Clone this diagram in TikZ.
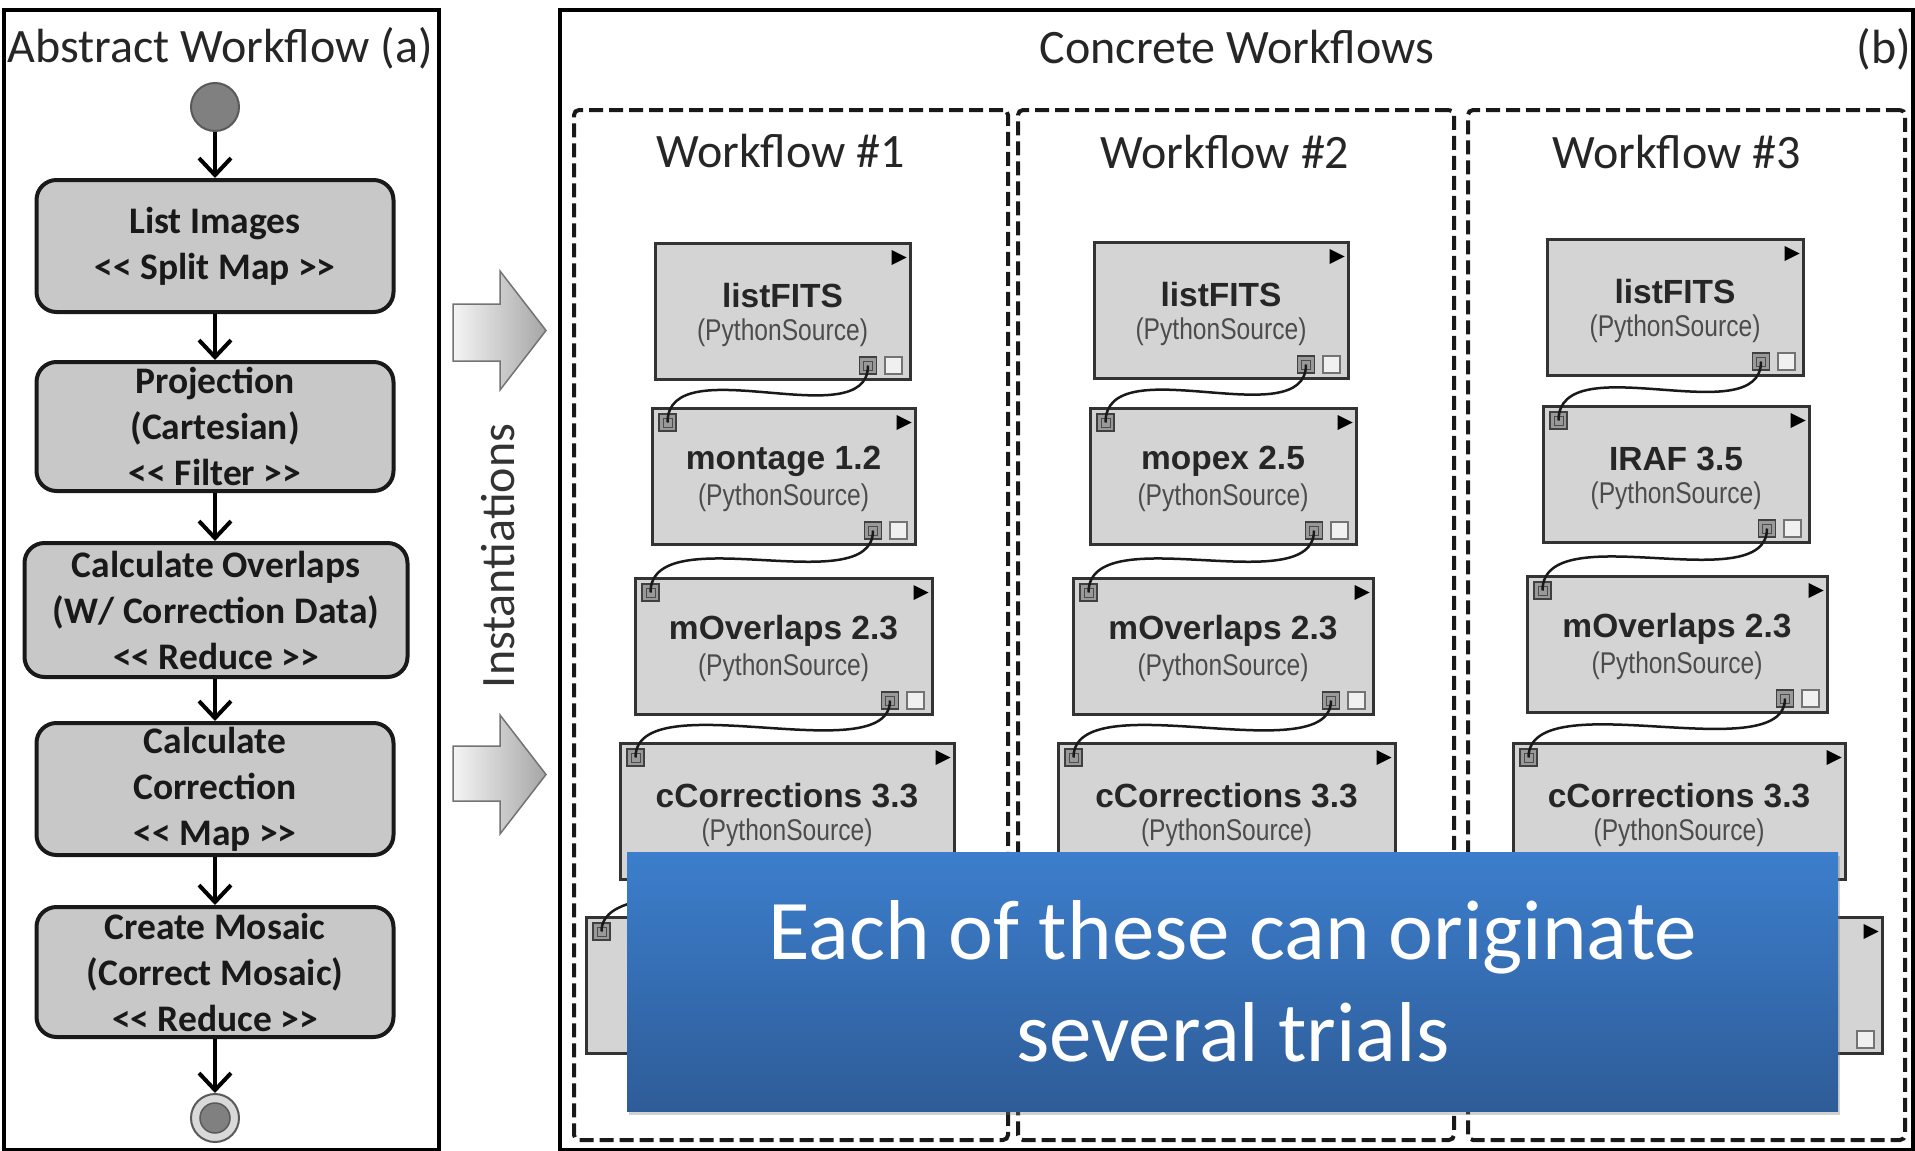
\documentclass[tikz,border=0pt]{standalone}
\usepackage{fontspec}
\setmainfont{Carlito}
\newfontfamily\calfont{Carlito}[Ligatures=TeXOff]
\newfontfamily\modfont{Liberation Sans}
\newfontfamily\modsubfont{Liberation Sans}[FakeStretch=0.82]
\usetikzlibrary{arrows.meta,calc,shadows}

\definecolor{boxgray}{RGB}{200,200,200}
\definecolor{modgray}{RGB}{212,212,212}
\definecolor{notetop}{RGB}{60,126,204}
\definecolor{notebot}{RGB}{46,92,152}

\tikzset{
  panel/.style={draw=black, line width=4pt, inner sep=0pt, anchor=north west},
  wfbox/.style={draw=black!90, line width=4pt, dash pattern=on 14pt off 6pt,
    rounded corners=5pt, inner sep=0pt, anchor=north west},
  headtext/.style={font=\calfont\fontsize{48}{56}\selectfont, text=black!85, anchor=base},
  abox/.style={draw=black!90, line width=4pt, fill=boxgray, rounded corners=20pt,
    minimum width=357pt, align=center, inner sep=0pt, text=black!90,
    font=\calfont\bfseries\fontsize{37.5}{46}\selectfont},
  startdot/.style={circle, draw=black!65, line width=2pt, fill=black!50, minimum size=48pt, inner sep=0pt},
  endring/.style={circle, draw=black!65, line width=2pt, fill=black!15, minimum size=48pt, inner sep=0pt},
  enddot/.style={circle, draw=black!65, line width=1.5pt, fill=black!50, minimum size=30pt, inner sep=0pt},
  flow/.style={line width=4pt, draw=black, -{Straight Barb[length=17pt,width=32pt]}},
  bigarrow/.style={draw=black!55, line width=1.5pt, left color=black!4, right color=black!35},
  modbox/.style={draw=black!80, line width=3pt, fill=modgray, minimum height=136pt, inner sep=0pt},
  modtitle/.style={font=\modfont\bfseries\fontsize{33.5}{38}\selectfont, text=black!85},
  modsub/.style={font=\modsubfont\fontsize{30}{34}\selectfont, text=black!70},
  portused/.style={draw=black!75, fill=black!40, line width=1.5pt, minimum size=17pt, inner sep=0pt,
    path picture={\draw[black!70, line width=1pt]
      ([shift={(4pt,4pt)}]path picture bounding box.south west) rectangle
      ([shift={(-4pt,-4pt)}]path picture bounding box.north east);}},
  portfree/.style={draw=black!55, fill=black!6, line width=1.5pt, minimum size=17pt, inner sep=0pt},
  wire/.style={draw=black!90, line width=2.5pt},
  note/.style={draw=none, top color=notetop, bottom color=notebot, inner sep=0pt,
    minimum width=1211pt, minimum height=259pt, anchor=north west, align=center,
    text=white, font=\calfont\fontsize{85}{102}\selectfont,
    drop shadow={shadow xshift=2pt, shadow yshift=-4pt, opacity=0.35}},
}

% module frame with its run marker and free port: name, centre x, top y, width
\newcommand\modframe[4]{%
  \node[modbox, minimum width=#4pt, anchor=north] (#1) at (#2,#3) {};
  \fill[black] ($(#1.north east)+(-20,8)$) -- ($(#1.north east)+(-5,15.5)$)
    -- ($(#1.north east)+(-20,23)$) -- cycle;
  \node[portfree] (#1-free) at ($(#1.south east)+(-18,-15.5)$) {};
}
% connected output port at the bottom right of a module
\newcommand\modoutport[1]{%
  \node[portused] (#1-out) at ($(#1.south east)+(-43.5,-15.5)$) {};
}
% module labels: name, title
\newcommand\modtext[2]{%
  \node[modtitle] (#1-t) at ($(#1.north)+(0,54)$) {#2};
  \node[modsub] (#1-s) at ($(#1.north)+(0,91)$) {(PythonSource)};
}
% input port at the top left corner of a module
\newcommand\modinport[1]{%
  \node[portused] (#1-in) at ($(#1.north west)+(17,15.5)$) {};
}
% wire from one module's output port to the next module's input port
\newcommand\modwire[2]{%
  \draw[wire] (#1-out.center) .. controls +(0,72) and +(0,-76) .. (#2-in.center);
}

\begin{document}
\begin{tikzpicture}[x=1pt, y=-1pt]
\useasboundingbox (0,0) rectangle (1915,1151);
\fill[white] (0,0) rectangle (1915,1151);

% ---------- panel (a): abstract workflow ----------
\node[panel, minimum width=435pt, minimum height=1140pt] (pa) at (2,8) {};
\node[headtext] (atitle) at (220,62) {Abstract Workflow (a)};

\node[startdot] (start) at (215,107) {};
\node[abox, minimum height=132pt] (ab1) at (215,246) {List Images\\<< Split Map >>};
\node[abox, minimum height=129pt] (ab2) at (215,426.5) {Projection\\(Cartesian)\\<< Filter >>};
\node[abox, minimum width=383pt, minimum height=134pt] (ab3) at (216,610) {Calculate Overlaps\\(W/ Correction Data)\\<< Reduce >>};
\node[abox, minimum height=132pt] (ab4) at (215,789) {Calculate\\Correction\\<< Map >>};
\node[abox, minimum height=130pt] (ab5) at (215,972) {Create Mosaic\\(Correct Mosaic)\\<< Reduce >>};
\node[endring] (stop) at (215,1118) {};
\node[enddot] (stopdot) at (215,1118) {};

\draw[flow] (start.south) -- (ab1.north);
\draw[flow] (ab1.south) -- (ab2.north);
\draw[flow] (ab2.south) -- (ab3.north -| ab2.south);
\draw[flow] (ab3.south -| ab2.south) -- (ab4.north);
\draw[flow] (ab4.south) -- (ab5.north);
\draw[flow] (ab5.south) -- (stop.north);

% ---------- instantiation arrows ----------
\draw[bigarrow] (453,304) -- (500,304) -- (500,271) -- (546,330.5) -- (500,390)
  -- (500,361) -- (453,361) -- cycle;
\draw[bigarrow] (453,746) -- (500,746) -- (500,715) -- (546,774.5) -- (500,834)
  -- (500,801) -- (453,801) -- cycle;
\node[headtext, anchor=center, rotate=90, text=black!80] (inst) at (498,556) {Instantiations};

% ---------- panel (b): concrete workflows ----------
\node[panel, minimum width=1353pt, minimum height=1140pt] (pb) at (558,8) {};
\node[headtext] (btitle) at (1237,63) {Concrete Workflows};
\node[headtext] (blabel) at (1884,63) {(b)};

\node[wfbox, minimum width=434pt, minimum height=1030pt] (wf1) at (572,108) {};
\node[wfbox, minimum width=436pt, minimum height=1030pt] (wf2) at (1016,108) {};
\node[wfbox, minimum width=437pt, minimum height=1030pt] (wf3) at (1466,108) {};
\node[headtext] (wf1t) at (780.5,167) {Workflow \#1};
\node[headtext] (wf2t) at (1225,168) {Workflow \#2};
\node[headtext] (wf3t) at (1676.5,168) {Workflow \#3};

% workflow 1
\modframe{a1}{782.5}{242}{255}   \modtext{a1}{listFITS}          \modoutport{a1}
\modframe{a2}{783.5}{407}{263}   \modtext{a2}{montage 1.2}       \modinport{a2} \modoutport{a2}
\modframe{a3}{783.5}{577}{297}   \modtext{a3}{mOverlaps 2.3}     \modinport{a3} \modoutport{a3}
\modframe{a4}{787}{742}{334}     \modtext{a4}{cCorrections 3.3}  \modinport{a4} \modoutport{a4}
\modframe{a5}{786}{916}{400}     \modinport{a5}
\modwire{a1}{a2} \modwire{a2}{a3} \modwire{a3}{a4} \modwire{a4}{a5}

% workflow 2
\modframe{b1}{1221}{241}{254}    \modtext{b1}{listFITS}          \modoutport{b1}
\modframe{b2}{1223}{407}{266}    \modtext{b2}{mopex 2.5}         \modinport{b2} \modoutport{b2}
\modframe{b3}{1223}{577}{300}    \modtext{b3}{mOverlaps 2.3}     \modinport{b3} \modoutport{b3}
\modframe{b4}{1226.5}{742}{337}  \modtext{b4}{cCorrections 3.3}  \modinport{b4} \modoutport{b4}
\modframe{b5}{1226}{916}{400}    \modinport{b5}
\modwire{b1}{b2} \modwire{b2}{b3} \modwire{b3}{b4} \modwire{b4}{b5}

% workflow 3
\modframe{c1}{1675}{238}{256}    \modtext{c1}{listFITS}          \modoutport{c1}
\modframe{c2}{1676}{405}{266}    \modtext{c2}{IRAF 3.5}          \modinport{c2} \modoutport{c2}
\modframe{c3}{1677}{575}{300}    \modtext{c3}{mOverlaps 2.3}     \modinport{c3} \modoutport{c3}
\modframe{c4}{1679}{742}{332}    \modtext{c4}{cCorrections 3.3}  \modinport{c4} \modoutport{c4}
\modframe{c5}{1680}{916}{404}    \modinport{c5}
\modwire{c1}{c2} \modwire{c2}{c3} \modwire{c3}{c4} \modwire{c4}{c5}

% ---------- overlay note ----------
\node[note] (trials) at (627,852) {Each of these can originate\\several trials};
\end{tikzpicture}
\end{document}
